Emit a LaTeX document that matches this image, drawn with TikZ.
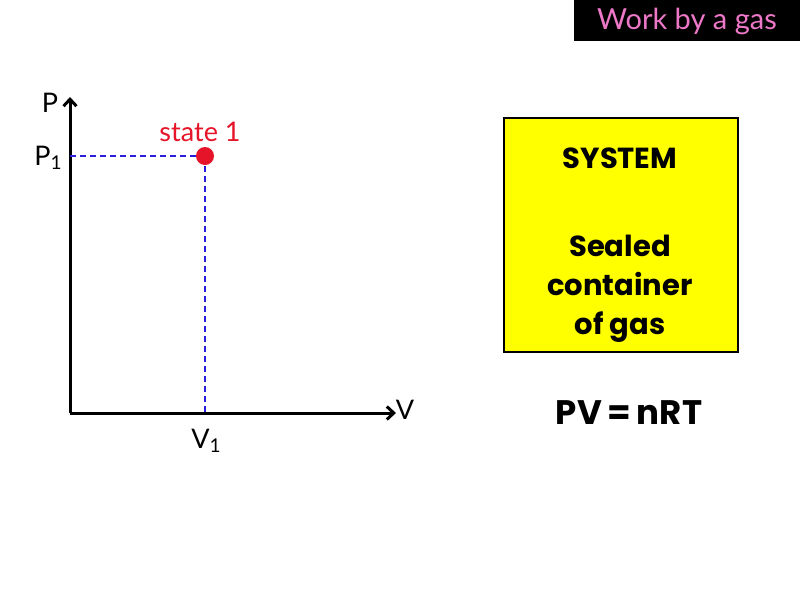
\documentclass[tikz,border=0pt]{standalone}
\usepackage{fontspec}
\setmainfont{Lato}
\newfontfamily\heavyfont{Poppins}
\usetikzlibrary{positioning, arrows.meta}
\definecolor{titlepink}{RGB}{238, 120, 200}
\definecolor{statered}{RGB}{230, 20, 40}
\definecolor{dashblue}{RGB}{40, 30, 220}
\definecolor{boxyellow}{RGB}{255, 255, 0}
\newcommand{\subone}{\raisebox{-4pt}{\fontsize{19}{20}\selectfont 1}}

\begin{document}
\begin{tikzpicture}[
        x=1pt, y=-1pt,
        axis/.style={-{Straight Barb[length=7pt, width=13pt]}, line width=3pt, black},
        guide/.style={dash pattern=on 6pt off 4pt, line width=2.6pt, dashblue},
        lbl/.style={font=\fontsize{27}{29}\selectfont, inner sep=0pt},
        boxtxt/.style={font=\heavyfont\bfseries\fontsize{29}{39}\selectfont, align=center, inner sep=0pt}
    ]
        \useasboundingbox (0,0) rectangle (800,600);
        \fill[white] (0,0) rectangle (800,600);

        % title
        \fill[black] (574,0) rectangle (800,41);
        \node[lbl, titlepink, font=\fontsize{29}{31}\selectfont] (title) at (687,21) {Work by a gas};

        % axes
        \coordinate (origin) at (70,413);
        \coordinate (ptop) at (70,97);
        \coordinate (vend) at (396,413);
        \draw[axis] (origin) -- (ptop);
        \draw[axis] (origin) -- (vend);
        \node[lbl] (plabel) at (50,103) {P};
        \node[lbl] (vlabel) at (405,410) {V};

        % state 1
        \coordinate (p1axis) at (70,156);
        \coordinate (v1axis) at (205,413);
        \draw[guide] (p1axis) -- (205,156);
        \draw[guide] (205,156) -- (v1axis);
        \node[circle, fill=statered, minimum size=18pt, inner sep=0pt] (state) at (205,156) {};
        \node[lbl, statered] (statelabel) at (200,132) {state 1};
        \node[lbl] (p1) at (48,158) {P\subone};
        \node[lbl] (v1) at (206,441) {V\subone};

        % system box
        \node[draw=black, line width=2pt, fill=boxyellow, minimum width=234pt, minimum height=234pt, inner sep=0pt] (system) at (621,235) {};
        \node[boxtxt] (systitle) at (620,158) {SYSTEM};
        \node[boxtxt] (sysdesc) at (620,289) {Sealed\\container\\of gas};

        % gas law
        \node[boxtxt, font=\heavyfont\bfseries\fontsize{34}{36}\selectfont] (gaslaw) at (629,413) {PV\,=\,nRT};
    \end{tikzpicture}
\end{document}
